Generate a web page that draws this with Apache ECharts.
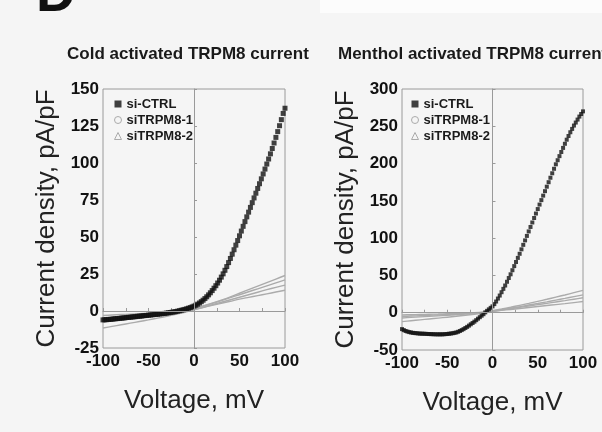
<!DOCTYPE html>
<html>
<head>
<meta charset="utf-8">
<script src="https://cdn.jsdelivr.net/npm/echarts@6/dist/echarts.min.js"></script>
<style>
html,body{margin:0;padding:0;background:#f5f5f5;}
#chart{width:602px;height:432px;}
</style>
</head>
<body>
<div id="chart"></div>
<script>
// Voltage sampling (mV)
const voltFine = [-100,-98,-96,-94,-92,-90,-88,-86,-84,-82,-80,-78,-76,-74,-72,-70,-68,-66,-64,-62,-60,-58,-56,-54,-52,-50,-48,-46,-44,-42,-40,-38,-36,-34,-32,-30,-28,-26,-24,-22,-20,-18,-16,-14,-12,-10,-8,-6,-4,-2,0,2,4,6,8,10,12,14,16,18,20,22,24,26,28,30,32,34,36,38,40,42,44,46,48,50,52,54,56,58,60,62,64,66,68,70,72,74,76,78,80,82,84,86,88,90,92,94,96,98,100];
const voltCoarse = [-100,-90,-80,-70,-60,-50,-40,-30,-20,-10,0,10,20,30,40,50,60,70,80,90,100];

// Cold activated current (pA/pF)
const coldCtrl = [-6.0,-5.9,-5.8,-5.7,-5.6,-5.5,-5.3,-5.2,-5.1,-5.0,-4.8,-4.7,-4.6,-4.4,-4.3,-4.2,-4.0,-3.9,-3.8,-3.6,-3.5,-3.4,-3.2,-3.1,-3.0,-2.8,-2.7,-2.6,-2.4,-2.3,-2.2,-2.0,-1.9,-1.7,-1.6,-1.4,-1.2,-1.0,-0.8,-0.6,-0.4,-0.1,0.2,0.5,0.8,1.1,1.5,1.9,2.3,2.8,3.3,3.9,4.6,5.4,6.3,7.3,8.4,9.6,10.9,12.3,13.8,15.4,17.1,18.9,20.8,22.9,25.1,27.5,30.0,32.7,35.5,38.4,41.4,44.5,47.6,50.8,54.0,57.2,60.4,63.6,66.8,70.0,73.2,76.4,79.6,82.8,86.0,89.3,92.6,95.9,99.3,102.7,106.2,109.8,113.5,117.3,121.2,125.2,129.3,133.5,137.0];
const coldSi1 = [-7.5,-6.8,-6.1,-5.4,-4.7,-4.0,-3.2,-2.4,-1.4,-0.2,1.4,3.2,5.1,7.0,9.0,11.0,13.0,15.0,17.0,19.0,21.0];
const coldSi1Band = [-3.0,-2.7,-2.4,-2.1,-1.8,-1.5,-1.1,-0.7,-0.2,0.6,1.8,3.4,5.3,7.4,9.6,12.0,14.4,16.8,19.2,21.6,24.0];
const coldSi2 = [-6.0,-5.5,-5.0,-4.5,-4.0,-3.4,-2.8,-2.1,-1.3,-0.3,1.0,2.4,3.8,5.2,6.6,8.0,9.2,10.4,11.6,12.8,14.0];
const coldSi2Band = [-11.5,-10.4,-9.3,-8.2,-7.1,-6.0,-4.8,-3.6,-2.3,-0.9,0.8,2.5,4.2,5.9,7.6,9.3,11.0,12.7,14.4,16.0,17.5];

// Menthol activated current (pA/pF)
const mentholCtrl = [-22,-23.3,-24.5,-25.3,-26,-26.5,-27,-27.3,-27.5,-27.8,-28,-28.1,-28.2,-28.3,-28.5,-28.6,-28.7,-28.8,-28.9,-29,-29,-29,-29,-28.9,-28.7,-28.5,-28.2,-27.9,-27.5,-27,-26.5,-25.6,-24.5,-23.3,-22,-20.5,-19,-17.3,-15.5,-13.8,-12,-10,-8,-6,-4,-2,0.5,2.5,4.5,6.5,8.5,11.5,15,19,23,27.5,32,36.5,41.5,46.5,51.5,57,62.5,68,73.5,79,85,91,97,103,109,115,121,127,133,139,145,151,157,163,169,175,181,187,193,199,204.5,210,215.5,221,226.5,232,237,242,246.5,251,255,259,263,266.5,270];
const mentholSi1 = [-7,-6.3,-5.6,-4.9,-4.2,-3.5,-2.7,-1.9,-1.0,0.3,2.3,4.2,6.2,8.2,10.3,12.4,14.6,16.9,19.2,21.6,24];
const mentholSi1Band = [-3,-2.7,-2.4,-2.1,-1.8,-1.4,-1.0,-0.5,0,1.0,2.8,5.0,7.4,9.9,12.5,15.2,18.0,20.9,23.8,26.9,30];
const mentholSi2 = [-5,-4.5,-4,-3.5,-3,-2.5,-2,-1.4,-0.7,0.3,1.8,3.1,4.4,5.7,7.0,8.3,9.6,10.9,12.2,13.6,15];
const mentholSi2Band = [-12,-10.8,-9.6,-8.4,-7.2,-6,-4.8,-3.5,-2.1,-0.5,1.8,3.6,5.4,7.2,9.0,10.8,12.6,14.4,16.2,18.1,20];

// Axis ticks
const xTicks = {min:-100, max:100, interval:25};
const yColdTicks = {min:-25, max:150, interval:25};
const yMentholTicks = {min:-50, max:300, interval:50};

const titles = ['Cold activated TRPM8 current', 'Menthol activated TRPM8 current'];
const seriesNames = ['si-CTRL', 'siTRPM8-1', 'siTRPM8-2'];

const pair = (xs, ys) => xs.map((x, i) => [x, ys[i]]);

const FRAME = '#9a9a9a';
const GREY = '#ababab';
const FONT = 'Liberation Sans, Arial, sans-serif';
const labelFont = {color:'#111', fontWeight:'bold', fontSize:17, fontFamily:FONT};

function xAxisCfg(gi){
  return {
    type:'value', gridIndex:gi, min:xTicks.min, max:xTicks.max, interval:xTicks.interval,
    name:'Voltage, mV', nameLocation:'middle', nameGap:40,
    nameTextStyle:{fontSize:26, color:'#222', fontFamily:FONT},
    axisLine:{lineStyle:{color:FRAME}},
    axisTick:{inside:true, length:3, lineStyle:{color:FRAME}},
    axisLabel:Object.assign({margin:5, formatter:v => (v % 50 === 0 ? String(v) : '')}, labelFont),
    splitLine:{show:false}
  };
}
function yAxisCfg(gi, t){
  return {
    type:'value', gridIndex:gi, min:t.min, max:t.max, interval:t.interval,
    name:'Current density, pA/pF', nameLocation:'middle', nameGap:43,
    nameTextStyle:{fontSize:26, color:'#222', fontFamily:FONT},
    axisLine:{show:true, lineStyle:{color:FRAME}},
    axisTick:{show:true, inside:true, length:3, lineStyle:{color:FRAME}},
    axisLabel:Object.assign({margin:4}, labelFont),
    splitLine:{show:false}
  };
}
function zeroLines(){
  return {
    silent:true, symbol:'none', label:{show:false},
    lineStyle:{color:FRAME, type:'solid', width:1},
    data:[{xAxis:0},{yAxis:0}]
  };
}
function chartSeries(gi, ctrl, s1, s1b, s2, s2b, ctrlSize){
  const lineCommon = {type:'line', xAxisIndex:gi, yAxisIndex:gi, showSymbol:false, smooth:0.3,
    lineStyle:{color:GREY, width:1.4}, itemStyle:{color:GREY}, z:2};
  return [
    {name:seriesNames[1], data:pair(voltCoarse, s1), symbol:'emptyCircle', ...lineCommon},
    {name:seriesNames[1], data:pair(voltCoarse, s1b), symbol:'emptyCircle', ...lineCommon},
    {name:seriesNames[2], data:pair(voltCoarse, s2), symbol:'emptyTriangle', ...lineCommon},
    {name:seriesNames[2], data:pair(voltCoarse, s2b), symbol:'emptyTriangle', ...lineCommon},
    {name:seriesNames[0], type:'scatter', xAxisIndex:gi, yAxisIndex:gi, data:pair(voltFine, ctrl),
      symbol:'rect', symbolSize:ctrlSize, itemStyle:{color:'#111'}, z:3, markLine:zeroLines()}
  ];
}
function legendCfg(left){
  return {
    left:left, top:92, orient:'vertical', itemWidth:7, itemHeight:7, itemGap:2,
    textStyle:{fontSize:13, fontWeight:'bold', color:'#1a1a1a', lineHeight:14, fontFamily:FONT},
    selectedMode:false,
    data:[
      {name:seriesNames[0], icon:'rect', itemStyle:{color:'#111'}},
      {name:seriesNames[1], icon:'circle', itemStyle:{color:'rgba(0,0,0,0)', borderColor:GREY, borderWidth:1}},
      {name:seriesNames[2], icon:'triangle', itemStyle:{color:'rgba(0,0,0,0)', borderColor:GREY, borderWidth:1}}
    ]
  };
}

const chart = echarts.init(document.getElementById('chart'), null, {renderer:'canvas'});
chart.setOption({
  backgroundColor:'#f5f5f5',
  animation:false,
  grid:[
    {left:103, top:89, width:182, height:259, show:true, borderColor:FRAME, borderWidth:1, backgroundColor:'transparent'},
    {left:402, top:89, width:181, height:261, show:true, borderColor:FRAME, borderWidth:1, backgroundColor:'transparent'}
  ],
  xAxis:[xAxisCfg(0), xAxisCfg(1)],
  yAxis:[yAxisCfg(0, yColdTicks), yAxisCfg(1, yMentholTicks)],
  legend:[legendCfg(109), legendCfg(406)],
  graphic:[
    {type:'rect', shape:{x:320, y:0, width:282, height:13}, style:{fill:'#fcfcfc'}, z:-1},
    {type:'text', x:36, y:-4, style:{text:'D', fontSize:55, fontWeight:'bold', fill:'#111', verticalAlign:'middle', fontFamily:FONT}},
    {type:'text', x:67, y:54, style:{text:titles[0], fontSize:17, fontWeight:'bold', fill:'#1a1a1a', verticalAlign:'middle', fontFamily:FONT}},
    {type:'text', x:338, y:54, style:{text:titles[1], fontSize:17, fontWeight:'bold', fill:'#1a1a1a', verticalAlign:'middle', fontFamily:FONT}}
  ],
  series:[].concat(
    chartSeries(0, coldCtrl, coldSi1, coldSi1Band, coldSi2, coldSi2Band, 5),
    chartSeries(1, mentholCtrl, mentholSi1, mentholSi1Band, mentholSi2, mentholSi2Band, 4)
  )
});
</script>
</body>
</html>
